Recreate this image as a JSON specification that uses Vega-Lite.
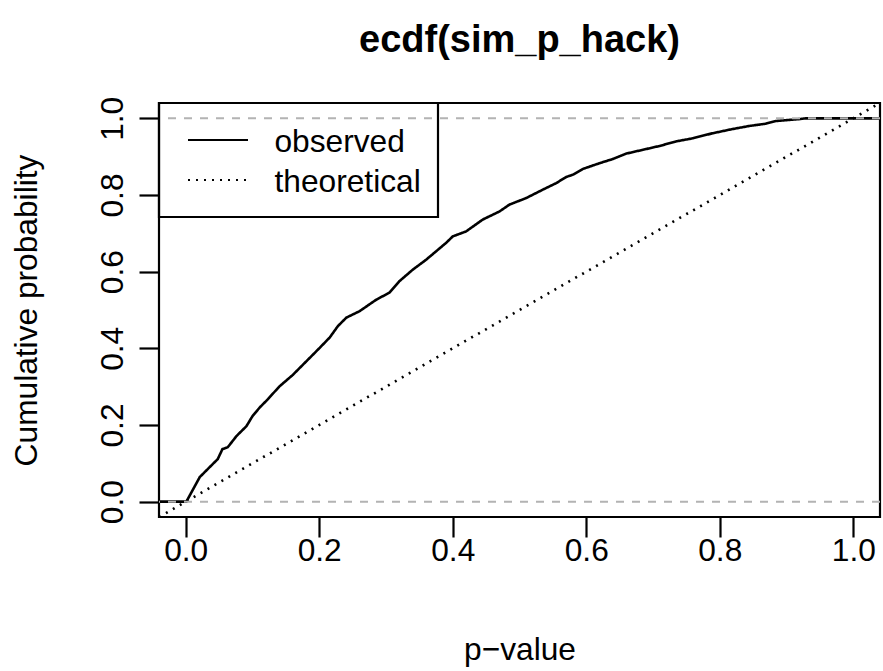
{
  "$schema": "https://vega.github.io/schema/vega-lite/v6.json",
  "width": 721,
  "height": 414,
  "autosize": "none",
  "padding": {"left": 159, "top": 103, "right": 3, "bottom": 154},
  "background": "white",
  "title": {
    "text": "ecdf(sim_p_hack)",
    "fontSize": 38,
    "font": "Liberation Sans",
    "fontWeight": "bold",
    "color": "black",
    "anchor": "middle",
    "frame": "group",
    "baseline": "alphabetic",
    "offset": 6
  },
  "encoding": {
    "y": {
      "field": "cp",
      "type": "quantitative",
      "scale": {"domain": [-0.04, 1.04], "nice": false, "zero": false},
      "axis": {
        "values": [0, 0.2, 0.4, 0.6, 0.8, 1],
        "format": ".1f",
        "title": "Cumulative probability",
        "domain": false,
        "grid": false,
        "tickSize": 20,
        "tickWidth": 2.2,
        "tickColor": "black",
        "labelFont": "Liberation Sans",
        "labelFontSize": 31.7,
        "labelColor": "black",
        "labelAngle": -90,
        "labelAlign": "center",
        "labelBaseline": "alphabetic",
        "labelPadding": 17,
        "labelOverlap": false,
        "labelFlush": false,
        "titleFont": "Liberation Sans",
        "titleFontSize": 31.7,
        "titleFontWeight": "normal",
        "titleColor": "black",
        "titleAngle": -90,
        "titleAlign": "center",
        "titleBaseline": "alphabetic",
        "titleX": -123,
        "titleY": 207
      }
    }
  },
  "layer": [
    {
      "data": {
        "values": [
          {"series": "observed", "p": -0.04, "cp": 0},
          {"series": "observed", "p": 0.001, "cp": 0},
          {"series": "observed", "p": 0.021, "cp": 0.064},
          {"series": "observed", "p": 0.033, "cp": 0.085},
          {"series": "observed", "p": 0.048, "cp": 0.111},
          {"series": "observed", "p": 0.055, "cp": 0.137},
          {"series": "observed", "p": 0.063, "cp": 0.142},
          {"series": "observed", "p": 0.076, "cp": 0.171},
          {"series": "observed", "p": 0.091, "cp": 0.197},
          {"series": "observed", "p": 0.1, "cp": 0.223},
          {"series": "observed", "p": 0.111, "cp": 0.246},
          {"series": "observed", "p": 0.123, "cp": 0.267},
          {"series": "observed", "p": 0.14, "cp": 0.3},
          {"series": "observed", "p": 0.16, "cp": 0.33},
          {"series": "observed", "p": 0.18, "cp": 0.365},
          {"series": "observed", "p": 0.2, "cp": 0.4},
          {"series": "observed", "p": 0.2156, "cp": 0.428},
          {"series": "observed", "p": 0.228, "cp": 0.458},
          {"series": "observed", "p": 0.2406, "cp": 0.48},
          {"series": "observed", "p": 0.2605, "cp": 0.497},
          {"series": "observed", "p": 0.2855, "cp": 0.527},
          {"series": "observed", "p": 0.305, "cp": 0.545},
          {"series": "observed", "p": 0.32, "cp": 0.575},
          {"series": "observed", "p": 0.34, "cp": 0.605},
          {"series": "observed", "p": 0.36, "cp": 0.631},
          {"series": "observed", "p": 0.39, "cp": 0.675},
          {"series": "observed", "p": 0.4, "cp": 0.692},
          {"series": "observed", "p": 0.42, "cp": 0.705},
          {"series": "observed", "p": 0.445, "cp": 0.736},
          {"series": "observed", "p": 0.47, "cp": 0.757},
          {"series": "observed", "p": 0.485, "cp": 0.775},
          {"series": "observed", "p": 0.51, "cp": 0.792},
          {"series": "observed", "p": 0.535, "cp": 0.814},
          {"series": "observed", "p": 0.555, "cp": 0.831},
          {"series": "observed", "p": 0.57, "cp": 0.847},
          {"series": "observed", "p": 0.58, "cp": 0.853},
          {"series": "observed", "p": 0.595, "cp": 0.868},
          {"series": "observed", "p": 0.62, "cp": 0.883},
          {"series": "observed", "p": 0.64, "cp": 0.894},
          {"series": "observed", "p": 0.66, "cp": 0.908},
          {"series": "observed", "p": 0.69, "cp": 0.92},
          {"series": "observed", "p": 0.71, "cp": 0.928},
          {"series": "observed", "p": 0.735, "cp": 0.94},
          {"series": "observed", "p": 0.76, "cp": 0.948},
          {"series": "observed", "p": 0.789, "cp": 0.961},
          {"series": "observed", "p": 0.819, "cp": 0.972},
          {"series": "observed", "p": 0.844, "cp": 0.98},
          {"series": "observed", "p": 0.869, "cp": 0.986},
          {"series": "observed", "p": 0.884, "cp": 0.993},
          {"series": "observed", "p": 0.919, "cp": 0.998},
          {"series": "observed", "p": 0.929, "cp": 1.0},
          {"series": "observed", "p": 1.04, "cp": 1.0},
          {"series": "theoretical", "p": -0.04, "cp": -0.04},
          {"series": "theoretical", "p": 1.04, "cp": 1.04}
        ]
      },
      "mark": {"type": "line", "color": "black", "strokeWidth": 2.6, "clip": true},
      "encoding": {
        "x": {
          "field": "p",
          "type": "quantitative",
          "scale": {"domain": [-0.04, 1.04], "nice": false, "zero": false},
          "axis": {
            "values": [0, 0.2, 0.4, 0.6, 0.8, 1],
            "format": ".1f",
            "title": "p−value",
            "domain": false,
            "grid": false,
            "tickSize": 20,
            "tickWidth": 2.2,
            "tickColor": "black",
            "labelFont": "Liberation Sans",
            "labelFontSize": 31.7,
            "labelColor": "black",
            "labelAngle": 0,
            "labelAlign": "center",
            "labelBaseline": "alphabetic",
            "labelPadding": 23,
            "labelOverlap": false,
            "labelFlush": false,
            "titleFont": "Liberation Sans",
            "titleFontSize": 31.7,
            "titleFontWeight": "normal",
            "titleColor": "black",
            "titleAlign": "center",
            "titleBaseline": "alphabetic",
            "titleX": 360.5,
            "titleY": 142
          }
        },
        "strokeDash": {
          "field": "series",
          "type": "nominal",
          "scale": {"domain": ["observed", "theoretical"], "range": [[1, 0], [2, 6]]},
          "legend": {
            "title": null,
            "orient": "none",
            "legendX": 0,
            "legendY": 0,
            "strokeColor": "black",
            "padding": 17,
            "symbolType": "stroke",
            "symbolSize": 3600,
            "symbolStrokeWidth": 2.2,
            "symbolStrokeColor": "black",
            "symbolOffset": 10.5,
            "labelOffset": 25,
            "labelFont": "Liberation Sans",
            "labelFontSize": 31.7,
            "labelColor": "black",
            "labelBaseline": "middle",
            "labelLimit": 400,
            "clipHeight": 40,
            "rowPadding": 0,
            "encode": {"labels": {"update": {"dy": {"value": 2}}}}
          }
        }
      }
    },
    {
      "data": {"values": [{"cp": 0}, {"cp": 1}]},
      "mark": {"type": "rule", "color": "#b3b3b3", "strokeDash": [8, 8], "strokeWidth": 2}
    }
  ],
  "config": {
    "view": {"stroke": "black", "strokeWidth": 2.2},
    "legend": {"strokeWidth": 2.2}
  }
}
